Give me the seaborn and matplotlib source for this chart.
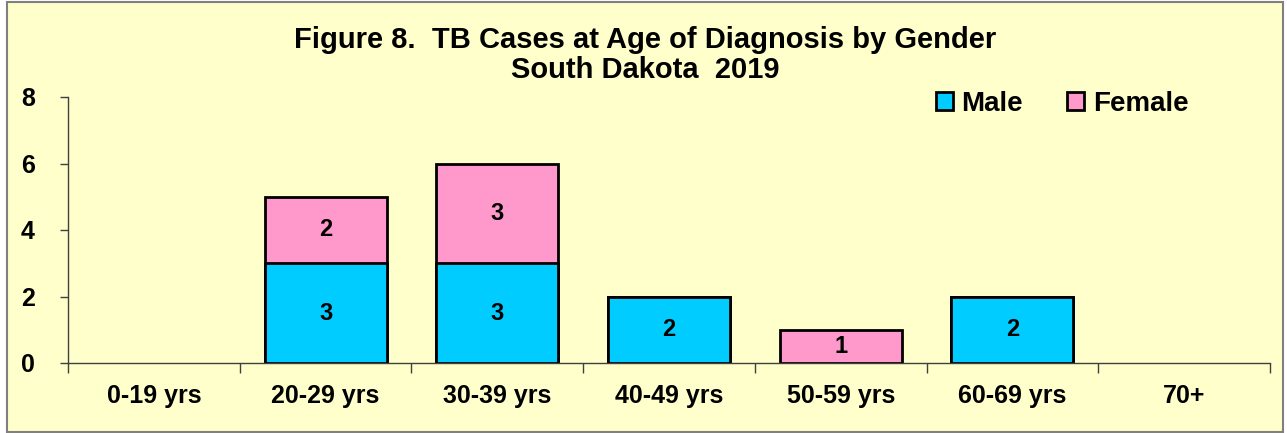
import numpy as np
import pandas as pd
import matplotlib
matplotlib.use("Agg")
import matplotlib.pyplot as plt
from matplotlib.patches import Rectangle, Patch
import seaborn as sns

categories = ["0-19 yrs", "20-29 yrs", "30-39 yrs", "40-49 yrs", "50-59 yrs", "60-69 yrs", "70+"]
male = [0, 3, 3, 2, 0, 2, 0]
female = [0, 2, 3, 0, 1, 0, 0]
yticks = [0, 2, 4, 6, 8]
title = "Figure 8.  TB Cases at Age of Diagnosis by Gender\nSouth Dakota  2019"

MALE_C = "#00CCFF"
FEMALE_C = "#FF99CC"
BG = "#FFFFCC"

sns.set_theme(style="white")
plt.rcParams["font.family"] = ["Liberation Sans", "DejaVu Sans"]
plt.rcParams["font.weight"] = "bold"
plt.rcParams["text.color"] = "black"
plt.rcParams["xtick.color"] = "#404040"
plt.rcParams["ytick.color"] = "#404040"
plt.rcParams["xtick.labelcolor"] = "black"
plt.rcParams["ytick.labelcolor"] = "black"

df = pd.DataFrame({"cat": categories, "male": male, "female": female})
df["total"] = df["male"] + df["female"]

fig = plt.figure(figsize=(12.87, 4.33), dpi=100, facecolor="white")
fig.patches.append(Rectangle((7 / 1287, 1 / 433), 1276 / 1287, 430 / 433,
                             transform=fig.transFigure, facecolor=BG,
                             edgecolor="#808080", linewidth=1.5, zorder=-10))
ax = fig.add_axes([68 / 1287, 1 - 363 / 433, (1270 - 68) / 1287, (363 - 97) / 433])
ax.set_facecolor("none")

sns.barplot(data=df, x="cat", y="total", color=FEMALE_C, saturation=1,
            edgecolor="black", linewidth=2, width=0.71, ax=ax, order=categories)
sns.barplot(data=df, x="cat", y="male", color=MALE_C, saturation=1,
            edgecolor="black", linewidth=2, width=0.71, ax=ax, order=categories)
for p in ax.patches:
    if p.get_height() == 0:
        p.set_linewidth(0)

for i, (m, f) in enumerate(zip(male, female)):
    if m > 0:
        ax.text(i, m / 2, str(m), ha="center", va="center", fontsize=17,
                fontweight="bold", color="black")
    if f > 0:
        ax.text(i, m + f / 2, str(f), ha="center", va="center", fontsize=17,
                fontweight="bold", color="black")

ax.set_xlim(-0.5, len(categories) - 0.5)
ax.set_ylim(0, 8)
ax.set_yticks(yticks)
ax.set_yticklabels([str(v) for v in yticks], fontsize=18, fontweight="bold")
ax.set_xticks(range(len(categories)))
ax.set_xticklabels(categories, fontsize=18, fontweight="bold")
ax.set_xticks(np.arange(-0.5, len(categories), 1.0), minor=True)
ax.tick_params(axis="x", which="major", bottom=True, length=0, pad=15)
ax.tick_params(axis="x", which="minor", bottom=True, length=7, width=1,
               color="#404040", direction="out")
ax.tick_params(axis="y", which="major", left=True, length=6, width=1,
               color="#404040", direction="out", pad=18)
ax.set_xlabel("")
ax.set_ylabel("")
for s in ["top", "right"]:
    ax.spines[s].set_visible(False)
for s in ["left", "bottom"]:
    ax.spines[s].set_color("#404040")
    ax.spines[s].set_linewidth(1)

fig.text(645 / 1287, 1 - 55 / 433, title, ha="center", va="center",
         fontsize=21, fontweight="bold", linespacing=1.1, color="black")

handles = [Patch(facecolor=MALE_C, edgecolor="black", linewidth=2, label="Male"),
           Patch(facecolor=FEMALE_C, edgecolor="black", linewidth=2, label="Female")]
leg = ax.legend(handles=handles, loc="center", bbox_to_anchor=(1062 / 1287, 1 - 104 / 433),
                bbox_transform=fig.transFigure, ncol=2, frameon=False,
                prop={"size": 20, "weight": "bold"}, handlelength=0.62, handleheight=0.62,
                handletextpad=0.3, columnspacing=1.6)
for t in leg.get_texts():
    t.set_color("black")

fig.savefig("out.png", dpi=100, facecolor=fig.get_facecolor())
